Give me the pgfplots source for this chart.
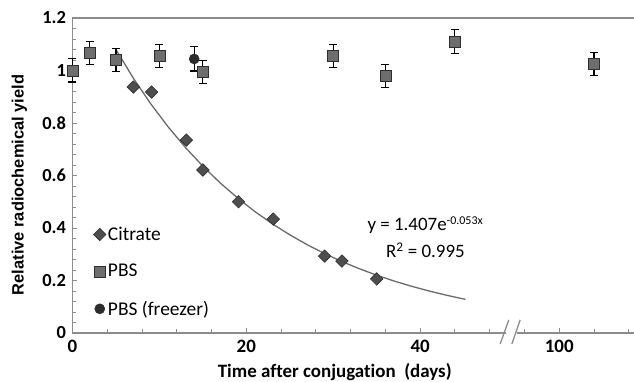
\documentclass[border=0pt]{standalone}
\usepackage{pgfplots}
\pgfplotsset{compat=1.18}
\usepackage{fontspec}
\setmainfont{Carlito}[Ligatures=NoCommon]
\newfontfamily\arialfont{Liberation Sans}
\definecolor{axgray}{HTML}{8C8C8C}
\definecolor{sqfill}{HTML}{6E6E6E}
\definecolor{sqedge}{HTML}{2E2E2E}
\definecolor{dmfill}{HTML}{4E4E4E}
\definecolor{cifill}{HTML}{2C2C2C}
\definecolor{fitline}{HTML}{6A6A6A}
\begin{document}
\begin{tikzpicture}
\begin{axis}[
  scale only axis, width=561.5bp, height=315bp,
  xmin=0, xmax=64.6, ymin=0, ymax=1.2, enlargelimits=false,
  clip=false,
  axis lines=left,
  axis line style={-, draw=axgray, line width=1.3bp},
  xtick={0,20,40,56}, xticklabels={0,20,40,100},
  minor xtick={4,8,12,16,24,28,32,36,44,48,52,60,64},
  ytick={0,0.2,0.4,0.6,0.8,1,1.2},
  yticklabels={0,0.2,0.4,0.6,0.8,1,1.2},
  minor y tick num=4,
  tick align=inside,
  major tick length=5bp, minor tick length=4bp,
  tick style={draw=axgray, line width=0.9bp},
  /pgf/number format/assume math mode=true,
  xticklabel style={font=\fontsize{19}{19}\selectfont\bfseries, yshift=-4bp},
  yticklabel style={font=\fontsize{18.5}{18.5}\selectfont\bfseries, xshift=-3bp},
  xlabel={Time after conjugation\ \ (days)},
  xlabel style={font=\fontsize{19}{19}\selectfont\bfseries, at={(axis description cs:0.467,0)}, anchor=base, yshift=-44bp},
  ylabel={Relative radiochemical yield},
  ylabel style={font=\fontsize{16.5}{16.5}\selectfont\arialfont\bfseries, at={(axis description cs:-0.0944,0.47)}, anchor=center},
  legend style={at={(axis cs:2.4,0.412)}, anchor=north west, draw=none, fill=none,
    font=\fontsize{19.5}{19.5}\selectfont, row sep=18.5bp, inner sep=0pt,
    cells={anchor=west}},
  legend image code/.code={\draw[#1] plot coordinates {(0.2cm,0cm)};},
]
\coordinate (O) at (rel axis cs:0,0);
% fitted trend line y = 1.407 exp(-0.053 x), tabulated
\addplot[fitline, line width=1.3bp, forget plot] coordinates {
(5,1.0795) (7,0.9709) (9,0.8732) (11,0.7854) (13,0.7064) (15,0.6354)
(17,0.5715) (19,0.5140) (21,0.4623) (23,0.4158) (25,0.3740) (27,0.3364)
(29,0.3025) (31,0.2721) (33,0.2448) (35,0.2202) (37,0.1980) (39,0.1781)
(41,0.1602) (43,0.1441) (45,0.1296) (45.2,0.1282)};
% Citrate
\addplot[only marks, mark=square*, mark size=4.4bp,
  mark options={rotate=45, fill=dmfill, draw=sqedge, line width=0.6bp}] coordinates {
(7,0.937) (9.1,0.918) (13.1,0.735) (15,0.621) (19.1,0.50) (23.1,0.434)
(29,0.293) (31,0.274) (35,0.206)};
\addlegendentry{Citrate}
% PBS
\addplot[only marks, mark=square*, mark size=5.5bp,
  mark options={fill=sqfill, draw=sqedge, line width=0.8bp},
  error bars/.cd, y dir=both, y explicit,
  error bar style={black, line width=1.1bp},
  error mark options={black, rotate=90, mark size=4bp, line width=1.1bp}]
coordinates {
(0,1.0) +- (0,0.044)
(2,1.067) +- (0,0.044)
(5,1.04) +- (0,0.044)
(10,1.055) +- (0,0.044)
(15,0.995) +- (0,0.044)
(30,1.055) +- (0,0.044)
(36,0.98) +- (0,0.044)
(44,1.11) +- (0,0.045)
(60,1.025) +- (0,0.044)};
\addlegendentry{PBS}
% PBS (freezer)
\addplot[only marks, mark=*, mark size=5bp,
  mark options={fill=cifill, draw=sqedge, line width=0.6bp},
  error bars/.cd, y dir=both, y explicit,
  error bar style={black, line width=1.1bp},
  error mark options={black, rotate=90, mark size=4bp, line width=1.1bp}]
coordinates {(14,1.044) +- (0,0.046)};
\addlegendentry{PBS (freezer)}
% top border line
\draw[axgray, line width=1.3bp] (rel axis cs:0,1) -- (rel axis cs:1,1);
% axis break
\fill[white] (axis cs:49.85,-0.015) rectangle (axis cs:51.1,0.015);
\draw[axgray, line width=1.3bp] (axis cs:49.2,-0.042) -- (axis cs:50.2,0.05);
\draw[axgray, line width=1.3bp] (axis cs:50.55,-0.042) -- (axis cs:51.5,0.05);
% fit equation
\node[font=\fontsize{19}{19}\selectfont, anchor=center] at (axis cs:40.6,0.411) {y = 1.407e\textsuperscript{\fontsize{12}{12}\selectfont -0.053x}};
\node[font=\fontsize{19}{19}\selectfont, anchor=center] at (axis cs:40.6,0.316) {R\textsuperscript{2} = 0.995};
\end{axis}
\pgfresetboundingbox
\path (O) ++(-72.5bp,-49bp) rectangle ++(634bp,382bp);
\end{tikzpicture}
\end{document}
